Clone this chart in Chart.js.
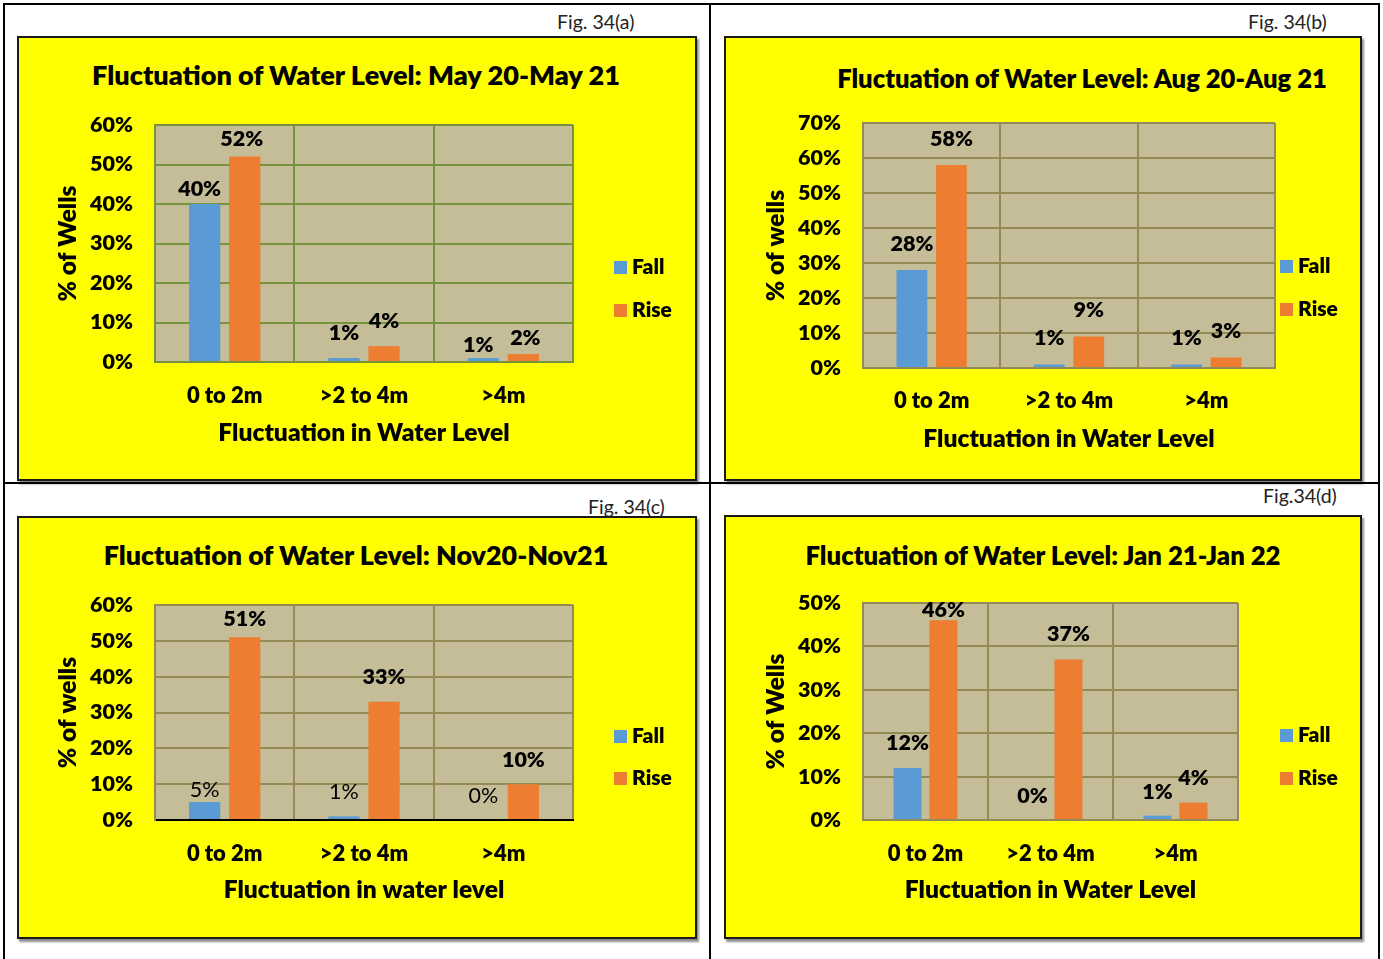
<!DOCTYPE html>
<html>
<head>
<meta charset="utf-8">
<script src="https://cdn.jsdelivr.net/npm/chart.js@4.4.0/dist/chart.umd.min.js"></script>
<style>
  html, body { margin: 0; padding: 0; background: #fff; }
  body { width: 1383px; height: 959px; position: relative; overflow: hidden; font-family: Lato, "Open Sans", sans-serif; }
  .rule { position: absolute; background: #000; }
  .box { position: absolute; background: #ffff00; border: 2px solid #1a1a1a; box-sizing: border-box;
         box-shadow: 2px 3px 2px rgba(0,0,0,0.45); }
  .fig { position: absolute; font-size: 19.5px; line-height: 22px; color: #222; white-space: nowrap; transform: translateY(-50%); }
  .ttl { position: absolute; font-weight: 800; line-height: 30px; color: #000; white-space: nowrap;
         transform: translate(-50%, -50%); }
  canvas { position: absolute; }
</style>
</head>
<body>
<!-- table rules -->
<div class="rule" style="left:3px;top:3px;width:1377px;height:2px"></div>
<div class="rule" style="left:3px;top:482px;width:1377px;height:2px"></div>
<div class="rule" style="left:3px;top:3px;width:2px;height:956px"></div>
<div class="rule" style="left:709px;top:3px;width:2px;height:956px"></div>
<div class="rule" style="left:1378px;top:3px;width:2px;height:956px"></div>

<div class="box" style="left:17px;top:36px;width:680px;height:445px"></div>
<div class="box" style="left:724px;top:36px;width:638px;height:445px"></div>
<div class="box" style="left:17px;top:516px;width:680px;height:423px"></div>
<div class="box" style="left:724px;top:515px;width:638px;height:424px"></div>

<div class="fig" style="left:557px;top:22px">Fig. 34(a)</div>
<div class="fig" style="left:1248px;top:22px">Fig. 34(b)</div>
<div class="fig" style="left:588px;top:507px">Fig. 34(c)</div>
<div class="fig" style="left:1263px;top:496px">Fig.34(d)</div>

<div class="ttl" style="left:356px;top:75px;font-size:27.1px">Fluctuation of Water Level: May 20-May 21</div>
<div class="ttl" style="left:1082px;top:78px;font-size:25.6px">Fluctuation of Water Level: Aug 20-Aug 21</div>
<div class="ttl" style="left:356px;top:555px;font-size:26.8px">Fluctuation of Water Level: Nov20-Nov21</div>
<div class="ttl" style="left:1043px;top:555px;font-size:25.7px">Fluctuation of Water Level: Jan 21-Jan 22</div>

<canvas id="cA" width="680" height="445" style="left:17px;top:36px"></canvas>
<canvas id="cB" width="638" height="445" style="left:724px;top:36px"></canvas>
<canvas id="cC" width="680" height="423" style="left:17px;top:516px"></canvas>
<canvas id="cD" width="638" height="424" style="left:724px;top:515px"></canvas>

<script>
// Categories of water-level fluctuation
const categories = ['0 to 2m', '>2 to 4m', '>4m'];

// % of wells, May 20 - May 21
const fallMay = [40, 1, 1];
const riseMay = [52, 4, 2];
// % of wells, Aug 20 - Aug 21
const fallAug = [28, 1, 1];
const riseAug = [58, 9, 3];
// % of wells, Nov 20 - Nov 21
const fallNov = [5, 1, 0];
const riseNov = [51, 33, 10];
// % of wells, Jan 21 - Jan 22
const fallJan = [12, 0, 1];
const riseJan = [46, 37, 4];

// Value-axis maxima (percent)
const axisMax = [60, 70, 60, 50];

const FONT = 'Lato, "Open Sans", sans-serif';
const HEAVY = '800';
const BLUE = '#5B9BD5';
const ORANGE = '#ED7D31';
const PLOT_BG = '#C4BD97';

Chart.defaults.color = '#000';
Chart.defaults.font.family = FONT;

// Fill the plot area before the grid is drawn
const plotBackground = {
  id: 'plotBackground',
  beforeDraw(chart) {
    const { ctx, chartArea: a } = chart;
    ctx.save();
    ctx.fillStyle = PLOT_BG;
    ctx.fillRect(a.left, a.top, a.right - a.left, a.bottom - a.top);
    ctx.restore();
  }
};

// Percentage labels above each bar
const barLabels = {
  id: 'barLabels',
  afterDatasetsDraw(chart, args, opts) {
    const { ctx } = chart;
    ctx.save();
    ctx.textAlign = 'center';
    ctx.textBaseline = 'middle';
    ctx.fillStyle = '#000';
    chart.data.datasets.forEach((ds, di) => {
      const meta = chart.getDatasetMeta(di);
      const weight = (opts.weights && opts.weights[di]) || HEAVY;
      ctx.font = weight + ' 21.5px ' + FONT;
      meta.data.forEach((bar, i) => {
        const lift = opts.lift[di][i];
        const dx = opts.dx ? opts.dx[di][i] : 0;
        ctx.fillText(ds.data[i] + '%', bar.x + dx, bar.y - lift);
      });
    });
    ctx.restore();
  }
};

// Legend drawn to the right of the plot
const sideLegend = {
  id: 'sideLegend',
  afterDraw(chart, args, opts) {
    const { ctx } = chart;
    ctx.save();
    ctx.textBaseline = 'middle';
    ctx.textAlign = 'left';
    ctx.font = HEAVY + ' 21px ' + FONT;
    chart.data.datasets.forEach((ds, di) => {
      const y = opts.y[di];
      ctx.fillStyle = ds.backgroundColor;
      ctx.fillRect(opts.x, y - 6, 13, 13);
      ctx.fillStyle = '#000';
      ctx.fillText(ds.label, opts.x + 18, y);
    });
    ctx.restore();
  }
};

function makeChart(id, fall, rise, max, g) {
  return new Chart(document.getElementById(id), {
    type: 'bar',
    data: {
      labels: categories,
      datasets: [
        { label: 'Fall', data: fall, backgroundColor: BLUE },
        { label: 'Rise', data: rise, backgroundColor: ORANGE }
      ]
    },
    options: {
      responsive: false,
      animation: false,
      events: [],
      categoryPercentage: 0.575,
      barPercentage: 0.78,
      layout: { padding: { top: g.top, right: g.right, left: 0, bottom: 0 } },
      plugins: {
        legend: { display: false },
        tooltip: { enabled: false },
        barLabels: { lift: g.lift, dx: g.dx, weights: g.weights },
        sideLegend: { x: g.legX, y: g.legY }
      },
      scales: {
        x: {
          afterFit(s) { s.height = g.xH; },
          grid: { color: g.grid, lineWidth: 2, drawTicks: false, offset: true },
          border: { color: g.axis, width: 2 },
          ticks: { font: { size: 22, weight: HEAVY }, padding: g.xTickPad, color: '#000' },
          title: { display: true, text: g.xTitle, font: { size: 24.6, weight: HEAVY },
                   padding: { top: 0, bottom: g.xTitlePad }, color: '#000' }
        },
        y: {
          min: 0, max: max,
          afterFit(s) { s.width = g.yW; },
          grid: { color: g.grid, lineWidth: 2, drawTicks: false },
          border: { color: g.grid, width: 2 },
          ticks: { stepSize: 10, font: { size: 21.5, weight: HEAVY }, padding: 22, color: '#000',
                   callback: v => v + '%' },
          title: { display: true, text: g.yTitle, font: { size: 24.5, weight: HEAVY },
                   padding: { top: g.yTitlePad, bottom: 0 }, color: '#000' }
        }
      }
    },
    plugins: [plotBackground, barLabels, sideLegend]
  });
}

makeChart('cA', fallMay, riseMay, axisMax[0], {
  top: 89, right: 124, yW: 138, xH: 119, xTickPad: 21, xTitlePad: 33, yTitlePad: 36,
  grid: '#77933C', axis: '#77933C',
  xTitle: 'Fluctuation in Water Level', yTitle: '% of Wells',
  lift: [[15, 25, 13], [18, 25, 16]], dx: [[-5, 0, -5], [-3, 0, 2]],
  legX: 597, legY: [231, 274]
});

makeChart('cB', fallAug, riseAug, axisMax[1], {
  top: 87, right: 87, yW: 139, xH: 113, xTickPad: 20, xTitlePad: 27, yTitlePad: 37,
  grid: '#948A54', axis: '#948A54',
  xTitle: 'Fluctuation in Water Level', yTitle: '% of wells',
  lift: [[26, 26, 26], [26, 26, 26]], dx: [[0, 0, 0], [0, 0, 0]],
  legX: 556, legY: [230, 273]
});

makeChart('cC', fallNov, riseNov, axisMax[2], {
  top: 89, right: 124, yW: 138, xH: 119, xTickPad: 21, xTitlePad: 34, yTitlePad: 36,
  grid: '#948A54', axis: '#000000',
  xTitle: 'Fluctuation in water level', yTitle: '% of wells',
  lift: [[12, 24, 24], [18, 25, 24]], dx: [[0, 0, 0], [0, 0, 0]], weights: ['normal', HEAVY],
  legX: 597, legY: [220, 262]
});

makeChart('cD', fallJan, riseJan, axisMax[3], {
  top: 88, right: 124, yW: 139, xH: 119, xTickPad: 21, xTitlePad: 34, yTitlePad: 37,
  grid: '#948A54', axis: '#948A54',
  xTitle: 'Fluctuation in Water Level', yTitle: '% of Wells',
  lift: [[25, 24, 24], [10, 25, 25]], dx: [[0, 0, 0], [0, 0, 0]],
  legX: 556, legY: [220, 263]
});
</script>
</body>
</html>
